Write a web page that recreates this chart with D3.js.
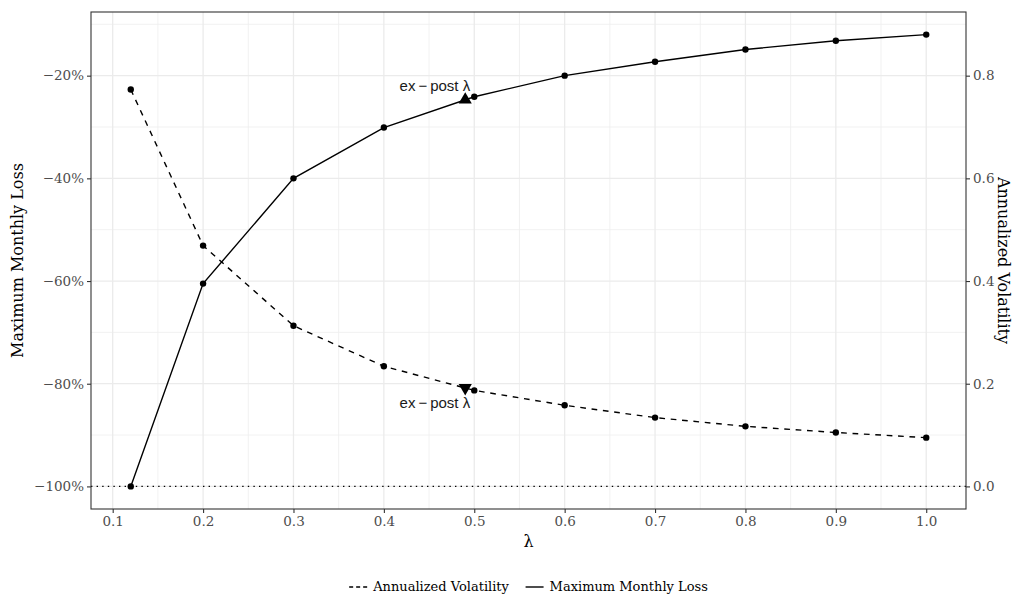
<!DOCTYPE html>
<html>
<head>
<meta charset="utf-8">
<script src="https://cdn.jsdelivr.net/npm/d3@7"></script>
<style>
  html, body { margin: 0; padding: 0; background: #fff; }
  svg { display: block; }
  .serif { font-family: "DejaVu Serif", "Liberation Serif", serif; }
  .sans { font-family: "Liberation Sans", Arial, sans-serif; }
</style>
</head>
<body>
<svg id="chart" width="1013" height="596"></svg>
<script>
// Portfolio scaling parameter
const lambda = [0.12, 0.2, 0.3, 0.4, 0.5, 0.6, 0.7, 0.8, 0.9, 1.0];
// Worst monthly return (left axis)
const maxMonthlyLoss = [-1.000, -0.605, -0.400, -0.301, -0.241, -0.200, -0.173, -0.149, -0.132, -0.120];
// Annualized volatility (right axis)
const annVolatility = [0.773, 0.469, 0.313, 0.234, 0.187, 0.158, 0.134, 0.117, 0.105, 0.095];
// Ex-post lambda and the curve values there
const exPostLambda = 0.49;
const exPostLoss = -0.247;
const exPostVol = 0.192;
const exPostLabel = "ex\u2009\u2212\u2009post \u03bb";

const xTicks = [0.1, 0.2, 0.3, 0.4, 0.5, 0.6, 0.7, 0.8, 0.9, 1.0];
const leftTicks = [-1.0, -0.8, -0.6, -0.4, -0.2];
const rightTicks = [0.0, 0.2, 0.4, 0.6, 0.8];
const seriesNames = ["Annualized Volatility", "Maximum Monthly Loss"];

const svg = d3.select("#chart");
const panel = { left: 91, right: 966, top: 12, bottom: 509 };

// ggplot-style 5% padding around the data range
function padded(ext) {
  const r = ext[1] - ext[0];
  return [ext[0] - 0.05 * r, ext[1] + 0.05 * r];
}
const xDom = padded(d3.extent(lambda));
const yDom = padded(d3.extent(maxMonthlyLoss));

const x = d3.scaleLinear().domain(xDom).range([panel.left, panel.right]);
const y = d3.scaleLinear().domain(yDom).range([panel.bottom, panel.top]);
// secondary axis: volatility = loss + 1
const yR = d3.scaleLinear().domain([yDom[0] + 1, yDom[1] + 1]).range([panel.bottom, panel.top]);

const W = panel.right - panel.left, H = panel.bottom - panel.top;

// grid lines
const grid = svg.append("g");
const xMinor = d3.range(0.15, 1.0, 0.1).filter(v => v > xDom[0] && v < xDom[1]);
const yMinor = [-0.9, -0.7, -0.5, -0.3, -0.1];
grid.selectAll(".xmin").data(xMinor).join("line")
  .attr("x1", d => x(d)).attr("x2", d => x(d))
  .attr("y1", panel.top).attr("y2", panel.bottom)
  .attr("stroke", "#ededed").attr("stroke-width", 0.8);
grid.selectAll(".ymin").data(yMinor).join("line")
  .attr("y1", d => y(d)).attr("y2", d => y(d))
  .attr("x1", panel.left).attr("x2", panel.right)
  .attr("stroke", "#ededed").attr("stroke-width", 0.8);
grid.selectAll(".xmaj").data(xTicks).join("line")
  .attr("x1", d => x(d)).attr("x2", d => x(d))
  .attr("y1", panel.top).attr("y2", panel.bottom)
  .attr("stroke", "#ebebeb").attr("stroke-width", 1.3);
grid.selectAll(".ymaj").data(leftTicks).join("line")
  .attr("y1", d => y(d)).attr("y2", d => y(d))
  .attr("x1", panel.left).attr("x2", panel.right)
  .attr("stroke", "#ebebeb").attr("stroke-width", 1.3);

// reference line at total loss
svg.append("line")
  .attr("x1", panel.left).attr("x2", panel.right)
  .attr("y1", y(-1)).attr("y2", y(-1))
  .attr("stroke", "#000").attr("stroke-width", 1.2)
  .attr("stroke-dasharray", "1.4 4.2");

// series
const lossData = lambda.map((l, i) => [l, maxMonthlyLoss[i]]);
const volData = lambda.map((l, i) => [l, annVolatility[i]]);

svg.append("path").datum(volData)
  .attr("d", d3.line().x(d => x(d[0])).y(d => yR(d[1])))
  .attr("fill", "none").attr("stroke", "#000").attr("stroke-width", 1.4)
  .attr("stroke-dasharray", "5.7 5.7");
svg.append("path").datum(lossData)
  .attr("d", d3.line().x(d => x(d[0])).y(d => y(d[1])))
  .attr("fill", "none").attr("stroke", "#000").attr("stroke-width", 1.4);

svg.append("g").selectAll("circle").data(volData).join("circle")
  .attr("cx", d => x(d[0])).attr("cy", d => yR(d[1])).attr("r", 3.2).attr("fill", "#000");
svg.append("g").selectAll("circle").data(lossData).join("circle")
  .attr("cx", d => x(d[0])).attr("cy", d => y(d[1])).attr("r", 3.2).attr("fill", "#000");

// ex-post markers
const triUp = d3.symbol().type(d3.symbolTriangle).size(75);
svg.append("path").attr("d", triUp())
  .attr("transform", `translate(${x(exPostLambda)},${y(exPostLoss)})`).attr("fill", "#000");
svg.append("path").attr("d", triUp())
  .attr("transform", `translate(${x(exPostLambda)},${yR(exPostVol)}) rotate(180)`).attr("fill", "#000");

svg.append("text").attr("class", "sans")
  .attr("x", x(exPostLambda) + 5).attr("y", y(exPostLoss) - 9)
  .attr("text-anchor", "end").attr("font-size", 15).attr("fill", "#1a1a1a")
  .text(exPostLabel);
svg.append("text").attr("class", "sans")
  .attr("x", x(exPostLambda) + 5).attr("y", yR(exPostVol) + 20)
  .attr("text-anchor", "end").attr("font-size", 15).attr("fill", "#1a1a1a")
  .text(exPostLabel);

// panel border
svg.append("rect")
  .attr("x", panel.left).attr("y", panel.top).attr("width", W).attr("height", H)
  .attr("fill", "none").attr("stroke", "#333").attr("stroke-width", 1.1);

// axes
const minus = s => s.replace("-", "\u2212");
const xAxis = d3.axisBottom(x).tickValues(xTicks).tickFormat(d3.format(".1f"))
  .tickSize(4).tickPadding(3);
const yAxis = d3.axisLeft(y).tickValues(leftTicks)
  .tickFormat(d => minus(d3.format(".0%")(d))).tickSize(4).tickPadding(3);
const yAxisR = d3.axisRight(yR).tickValues(rightTicks).tickFormat(d3.format(".1f"))
  .tickSize(4).tickPadding(3);

function styleAxis(g) {
  g.select(".domain").remove();
  g.selectAll(".tick line").attr("stroke", "#333").attr("stroke-width", 1.1);
  g.selectAll(".tick text").attr("class", "serif").attr("fill", "#4d4d4d").attr("font-size", 13.5);
}
svg.append("g").attr("transform", `translate(0,${panel.bottom})`).call(xAxis).call(styleAxis);
svg.append("g").attr("transform", `translate(${panel.left},0)`).call(yAxis).call(styleAxis);
svg.append("g").attr("transform", `translate(${panel.right},0)`).call(yAxisR).call(styleAxis);

// axis titles
const midY = (panel.top + panel.bottom) / 2;
svg.append("text").attr("class", "serif")
  .attr("transform", `translate(23,${midY}) rotate(-90)`)
  .attr("text-anchor", "middle").attr("font-size", 16).attr("fill", "#000")
  .text("Maximum Monthly Loss");
svg.append("text").attr("class", "serif")
  .attr("transform", `translate(998,${midY}) rotate(90)`)
  .attr("text-anchor", "middle").attr("font-size", 16).attr("fill", "#000")
  .text("Annualized Volatility");
svg.append("text").attr("class", "serif")
  .attr("x", (panel.left + panel.right) / 2).attr("y", 547)
  .attr("text-anchor", "middle").attr("font-size", 16).attr("fill", "#000")
  .text("\u03bb");

// legend
const legend = svg.append("g");
const dashes = ["4 3", null];
const items = legend.selectAll("g").data(seriesNames).join("g");
items.append("line").attr("x1", 0).attr("x2", 18).attr("y1", -4).attr("y2", -4)
  .attr("stroke", "#000").attr("stroke-width", 1.4)
  .attr("stroke-dasharray", (d, i) => dashes[i]);
items.append("text").attr("class", "serif").attr("x", 24).attr("y", 0)
  .attr("font-size", 13).attr("fill", "#000").text(d => d);
const widths = [];
items.each(function () { widths.push(this.getBBox().width); });
const gap = 16;
const total = d3.sum(widths) + gap * (widths.length - 1);
const start = (panel.left + panel.right) / 2 - total / 2;
items.attr("transform", (d, i) => {
  const tx = start + d3.sum(widths.slice(0, i)) + gap * i;
  return `translate(${tx},591)`;
});
</script>
</body>
</html>
